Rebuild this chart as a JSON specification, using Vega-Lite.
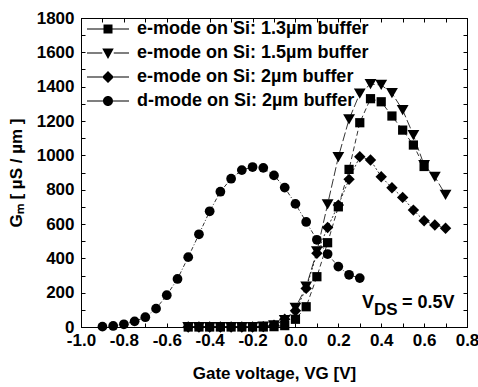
{
  "$schema": "https://vega.github.io/schema/vega-lite/v6.json",
  "width": 386,
  "height": 309,
  "autosize": {"type": "none"},
  "padding": {"left": 81, "top": 18, "right": 11, "bottom": 60},
  "background": "white",
  "config": {
    "font": "Liberation Sans",
    "view": {"stroke": "black", "strokeWidth": 1},
    "axis": {
      "grid": false,
      "domainColor": "black",
      "tickColor": "black",
      "labelColor": "black",
      "titleColor": "black",
      "labelFont": "Liberation Sans",
      "titleFont": "Liberation Sans",
      "labelFontWeight": "bold",
      "titleFontWeight": "bold",
      "labelFontSize": 17,
      "titleFontSize": 17,
      "tickSize": -4,
      "domainWidth": 1,
      "tickWidth": 1
    },
    "legend": {
      "labelFont": "Liberation Sans",
      "labelFontWeight": "bold",
      "labelFontSize": 18,
      "labelColor": "black",
      "labelLimit": 400
    }
  },
  "datasets": {
    "gm": [
      {"series": "e-mode on Si: 1.3µm buffer", "V": -0.5, "G": 0},
      {"series": "e-mode on Si: 1.3µm buffer", "V": -0.45, "G": 0},
      {"series": "e-mode on Si: 1.3µm buffer", "V": -0.4, "G": 0},
      {"series": "e-mode on Si: 1.3µm buffer", "V": -0.35, "G": 0},
      {"series": "e-mode on Si: 1.3µm buffer", "V": -0.3, "G": 0},
      {"series": "e-mode on Si: 1.3µm buffer", "V": -0.25, "G": 0},
      {"series": "e-mode on Si: 1.3µm buffer", "V": -0.2, "G": 0},
      {"series": "e-mode on Si: 1.3µm buffer", "V": -0.15, "G": 0},
      {"series": "e-mode on Si: 1.3µm buffer", "V": -0.1, "G": 2},
      {"series": "e-mode on Si: 1.3µm buffer", "V": -0.05, "G": 8},
      {"series": "e-mode on Si: 1.3µm buffer", "V": 0.0, "G": 45},
      {"series": "e-mode on Si: 1.3µm buffer", "V": 0.05, "G": 118},
      {"series": "e-mode on Si: 1.3µm buffer", "V": 0.1, "G": 293},
      {"series": "e-mode on Si: 1.3µm buffer", "V": 0.15, "G": 491},
      {"series": "e-mode on Si: 1.3µm buffer", "V": 0.2, "G": 700},
      {"series": "e-mode on Si: 1.3µm buffer", "V": 0.25, "G": 918},
      {"series": "e-mode on Si: 1.3µm buffer", "V": 0.3, "G": 1190},
      {"series": "e-mode on Si: 1.3µm buffer", "V": 0.35, "G": 1330},
      {"series": "e-mode on Si: 1.3µm buffer", "V": 0.4, "G": 1312},
      {"series": "e-mode on Si: 1.3µm buffer", "V": 0.45, "G": 1229},
      {"series": "e-mode on Si: 1.3µm buffer", "V": 0.5, "G": 1147},
      {"series": "e-mode on Si: 1.3µm buffer", "V": 0.55, "G": 1060},
      {"series": "e-mode on Si: 1.3µm buffer", "V": 0.6, "G": 935},

      {"series": "e-mode on Si: 1.5µm buffer", "V": -0.5, "G": 0},
      {"series": "e-mode on Si: 1.5µm buffer", "V": -0.45, "G": 0},
      {"series": "e-mode on Si: 1.5µm buffer", "V": -0.4, "G": 0},
      {"series": "e-mode on Si: 1.5µm buffer", "V": -0.35, "G": 0},
      {"series": "e-mode on Si: 1.5µm buffer", "V": -0.3, "G": 0},
      {"series": "e-mode on Si: 1.5µm buffer", "V": -0.25, "G": 0},
      {"series": "e-mode on Si: 1.5µm buffer", "V": -0.2, "G": 0},
      {"series": "e-mode on Si: 1.5µm buffer", "V": -0.15, "G": 2},
      {"series": "e-mode on Si: 1.5µm buffer", "V": -0.1, "G": 10},
      {"series": "e-mode on Si: 1.5µm buffer", "V": -0.05, "G": 40},
      {"series": "e-mode on Si: 1.5µm buffer", "V": 0.0, "G": 112},
      {"series": "e-mode on Si: 1.5µm buffer", "V": 0.05, "G": 235},
      {"series": "e-mode on Si: 1.5µm buffer", "V": 0.1, "G": 440},
      {"series": "e-mode on Si: 1.5µm buffer", "V": 0.15, "G": 715},
      {"series": "e-mode on Si: 1.5µm buffer", "V": 0.2, "G": 990},
      {"series": "e-mode on Si: 1.5µm buffer", "V": 0.25, "G": 1210},
      {"series": "e-mode on Si: 1.5µm buffer", "V": 0.3, "G": 1360},
      {"series": "e-mode on Si: 1.5µm buffer", "V": 0.35, "G": 1415},
      {"series": "e-mode on Si: 1.5µm buffer", "V": 0.4, "G": 1410},
      {"series": "e-mode on Si: 1.5µm buffer", "V": 0.45, "G": 1362},
      {"series": "e-mode on Si: 1.5µm buffer", "V": 0.5, "G": 1264},
      {"series": "e-mode on Si: 1.5µm buffer", "V": 0.55, "G": 1118},
      {"series": "e-mode on Si: 1.5µm buffer", "V": 0.6, "G": 943},
      {"series": "e-mode on Si: 1.5µm buffer", "V": 0.65, "G": 875},
      {"series": "e-mode on Si: 1.5µm buffer", "V": 0.7, "G": 770},

      {"series": "e-mode on Si: 2µm buffer", "V": -0.5, "G": 0},
      {"series": "e-mode on Si: 2µm buffer", "V": -0.45, "G": 0},
      {"series": "e-mode on Si: 2µm buffer", "V": -0.4, "G": 0},
      {"series": "e-mode on Si: 2µm buffer", "V": -0.35, "G": 0},
      {"series": "e-mode on Si: 2µm buffer", "V": -0.3, "G": 0},
      {"series": "e-mode on Si: 2µm buffer", "V": -0.25, "G": 0},
      {"series": "e-mode on Si: 2µm buffer", "V": -0.2, "G": 0},
      {"series": "e-mode on Si: 2µm buffer", "V": -0.15, "G": 2},
      {"series": "e-mode on Si: 2µm buffer", "V": -0.1, "G": 10},
      {"series": "e-mode on Si: 2µm buffer", "V": -0.05, "G": 45},
      {"series": "e-mode on Si: 2µm buffer", "V": 0.0, "G": 95},
      {"series": "e-mode on Si: 2µm buffer", "V": 0.05, "G": 225},
      {"series": "e-mode on Si: 2µm buffer", "V": 0.1, "G": 429},
      {"series": "e-mode on Si: 2µm buffer", "V": 0.15, "G": 580},
      {"series": "e-mode on Si: 2µm buffer", "V": 0.2, "G": 710},
      {"series": "e-mode on Si: 2µm buffer", "V": 0.25, "G": 860},
      {"series": "e-mode on Si: 2µm buffer", "V": 0.3, "G": 992},
      {"series": "e-mode on Si: 2µm buffer", "V": 0.35, "G": 973},
      {"series": "e-mode on Si: 2µm buffer", "V": 0.4, "G": 875},
      {"series": "e-mode on Si: 2µm buffer", "V": 0.45, "G": 811},
      {"series": "e-mode on Si: 2µm buffer", "V": 0.5, "G": 755},
      {"series": "e-mode on Si: 2µm buffer", "V": 0.55, "G": 681},
      {"series": "e-mode on Si: 2µm buffer", "V": 0.6, "G": 619},
      {"series": "e-mode on Si: 2µm buffer", "V": 0.65, "G": 594},
      {"series": "e-mode on Si: 2µm buffer", "V": 0.7, "G": 575},

      {"series": "d-mode on Si: 2µm buffer", "V": -0.9, "G": 2},
      {"series": "d-mode on Si: 2µm buffer", "V": -0.85, "G": 6},
      {"series": "d-mode on Si: 2µm buffer", "V": -0.8, "G": 16},
      {"series": "d-mode on Si: 2µm buffer", "V": -0.75, "G": 33},
      {"series": "d-mode on Si: 2µm buffer", "V": -0.7, "G": 57},
      {"series": "d-mode on Si: 2µm buffer", "V": -0.65, "G": 107},
      {"series": "d-mode on Si: 2µm buffer", "V": -0.6, "G": 185},
      {"series": "d-mode on Si: 2µm buffer", "V": -0.55, "G": 280},
      {"series": "d-mode on Si: 2µm buffer", "V": -0.5, "G": 407},
      {"series": "d-mode on Si: 2µm buffer", "V": -0.45, "G": 540},
      {"series": "d-mode on Si: 2µm buffer", "V": -0.4, "G": 674},
      {"series": "d-mode on Si: 2µm buffer", "V": -0.35, "G": 788},
      {"series": "d-mode on Si: 2µm buffer", "V": -0.3, "G": 864},
      {"series": "d-mode on Si: 2µm buffer", "V": -0.25, "G": 914},
      {"series": "d-mode on Si: 2µm buffer", "V": -0.2, "G": 932},
      {"series": "d-mode on Si: 2µm buffer", "V": -0.15, "G": 927},
      {"series": "d-mode on Si: 2µm buffer", "V": -0.1, "G": 883},
      {"series": "d-mode on Si: 2µm buffer", "V": -0.05, "G": 812},
      {"series": "d-mode on Si: 2µm buffer", "V": 0.0, "G": 717},
      {"series": "d-mode on Si: 2µm buffer", "V": 0.05, "G": 612},
      {"series": "d-mode on Si: 2µm buffer", "V": 0.1, "G": 508},
      {"series": "d-mode on Si: 2µm buffer", "V": 0.15, "G": 425},
      {"series": "d-mode on Si: 2µm buffer", "V": 0.2, "G": 352},
      {"series": "d-mode on Si: 2µm buffer", "V": 0.25, "G": 304},
      {"series": "d-mode on Si: 2µm buffer", "V": 0.3, "G": 285}
    ],
    "note": [{"V": 0.31, "G": 108}]
  },
  "resolve": {"axis": {"x": "independent", "y": "independent"}},
  "layer": [
    {
      "data": {"name": "gm"},
      "mark": {"type": "line", "strokeWidth": 0.8, "color": "black"},
      "encoding": {
        "x": {
          "field": "V", "type": "quantitative",
          "scale": {"domain": [-1, 0.8], "nice": false, "zero": false},
          "axis": {
            "orient": "bottom",
            "values": [-1, -0.9, -0.8, -0.7, -0.6, -0.5, -0.4, -0.3, -0.2, -0.1, 0, 0.1, 0.2, 0.3, 0.4, 0.5, 0.6, 0.7, 0.8],
            "labelExpr": "abs(round(datum.value*10)) % 2 == 0 ? replace(format(datum.value, '.1f'), '−', '-') : ''",
            "labelPadding": 9,
            "labelFlush": false,
            "labelOverlap": false,
            "title": "Gate voltage, VG [V]",
            "titlePadding": 17
          }
        },
        "y": {
          "field": "G", "type": "quantitative",
          "scale": {"domain": [0, 1800], "nice": false},
          "axis": {
            "orient": "left",
            "values": [0, 100, 200, 300, 400, 500, 600, 700, 800, 900, 1000, 1100, 1200, 1300, 1400, 1500, 1600, 1700, 1800],
            "labelExpr": "round(datum.value) % 200 == 0 ? format(datum.value, 'd') : ''",
            "labelPadding": 11,
            "labelFlush": false,
            "labelOverlap": false,
            "title": "Gₘ [ µS / µm ]",
            "titlePadding": 11
          }
        },
        "detail": {"field": "series"},
        "strokeDash": {
          "condition": [
            {"test": "datum.series === 'e-mode on Si: 1.3µm buffer'", "value": [5, 3]},
            {"test": "datum.series === 'e-mode on Si: 1.5µm buffer'", "value": [9, 3]},
            {"test": "datum.series === 'e-mode on Si: 2µm buffer'", "value": [2, 2]}
          ],
          "value": [4, 2, 1, 2]
        }
      }
    },
    {
      "data": {"name": "gm"},
      "mark": {"type": "point", "filled": true, "color": "black", "opacity": 1},
      "encoding": {
        "x": {
          "field": "V", "type": "quantitative",
          "axis": {
            "orient": "top", "labels": false, "title": null,
            "values": [-1, -0.9, -0.8, -0.7, -0.6, -0.5, -0.4, -0.3, -0.2, -0.1, 0, 0.1, 0.2, 0.3, 0.4, 0.5, 0.6, 0.7, 0.8]
          }
        },
        "y": {
          "field": "G", "type": "quantitative",
          "axis": {
            "orient": "right", "labels": false, "title": null,
            "values": [0, 100, 200, 300, 400, 500, 600, 700, 800, 900, 1000, 1100, 1200, 1300, 1400, 1500, 1600, 1700, 1800]
          }
        },
        "shape": {
          "condition": [
            {"test": "datum.series === 'e-mode on Si: 1.3µm buffer'", "value": "square"},
            {"test": "datum.series === 'e-mode on Si: 1.5µm buffer'", "value": "triangle-down"},
            {"test": "datum.series === 'e-mode on Si: 2µm buffer'", "value": "diamond"}
          ],
          "value": "circle"
        },
        "size": {
          "condition": [
            {"test": "datum.series === 'e-mode on Si: 1.3µm buffer'", "value": 85},
            {"test": "datum.series === 'e-mode on Si: 1.5µm buffer'", "value": 140},
            {"test": "datum.series === 'e-mode on Si: 2µm buffer'", "value": 130}
          ],
          "value": 95
        }
      }
    },
    {
      "data": {"name": "gm"},
      "mark": {"type": "point", "filled": true, "fill": "black", "stroke": "black", "opacity": 0},
      "encoding": {
        "x": {"field": "V", "type": "quantitative", "axis": null},
        "y": {"field": "G", "type": "quantitative", "axis": null},
        "shape": {
          "field": "series", "type": "nominal",
          "scale": {
            "domain": ["e-mode on Si: 1.3µm buffer", "e-mode on Si: 1.5µm buffer", "e-mode on Si: 2µm buffer", "d-mode on Si: 2µm buffer"],
            "range": [
              "M-4.2,-0.12H-0.9V0.12H-4.2ZM0.9,-0.12H4.2V0.12H0.9ZM-0.9,-0.9H0.9V0.9H-0.9Z",
              "M-4.2,-0.12H-1.15V0.12H-4.2ZM1.15,-0.12H4.2V0.12H1.15ZM-1.15,-0.9H1.15L0,1.2Z",
              "M-4.2,-0.12H-1.2V0.12H-4.2ZM1.2,-0.12H4.2V0.12H1.2ZM0,-1.2L1.2,0L0,1.2L-1.2,0Z",
              "M-4.2,-0.12H-1V0.12H-4.2ZM1,-0.12H4.2V0.12H1ZM-1,0A1,1,0,1,1,1,0A1,1,0,1,1,-1,0Z"
            ]
          },
          "legend": {
            "title": null,
            "orient": "none",
            "legendX": 18,
            "legendY": 2,
            "padding": 0,
            "symbolSize": 100,
            "symbolOpacity": 1,
            "symbolFillColor": "black",
            "symbolStrokeColor": "black",
            "symbolStrokeWidth": 0.5,
            "labelOffset": 20,
            "rowPadding": 6
          }
        }
      }
    },
    {
      "data": {"name": "note"},
      "mark": {"type": "text", "align": "left", "baseline": "alphabetic", "fontSize": 18, "fontWeight": "bold", "font": "Liberation Sans", "color": "black"},
      "encoding": {
        "x": {"field": "V", "type": "quantitative", "axis": null},
        "y": {"field": "G", "type": "quantitative", "axis": null},
        "text": {"value": "V"}
      }
    },
    {
      "data": {"name": "note"},
      "mark": {"type": "text", "align": "left", "baseline": "alphabetic", "fontSize": 17, "fontWeight": "bold", "font": "Liberation Sans", "color": "black", "dx": 12, "dy": 7},
      "encoding": {
        "x": {"field": "V", "type": "quantitative", "axis": null},
        "y": {"field": "G", "type": "quantitative", "axis": null},
        "text": {"value": "DS"}
      }
    },
    {
      "data": {"name": "note"},
      "mark": {"type": "text", "align": "left", "baseline": "alphabetic", "fontSize": 18, "fontWeight": "bold", "font": "Liberation Sans", "color": "black", "dx": 40},
      "encoding": {
        "x": {"field": "V", "type": "quantitative", "axis": null},
        "y": {"field": "G", "type": "quantitative", "axis": null},
        "text": {"value": "= 0.5V"}
      }
    }
  ]
}
